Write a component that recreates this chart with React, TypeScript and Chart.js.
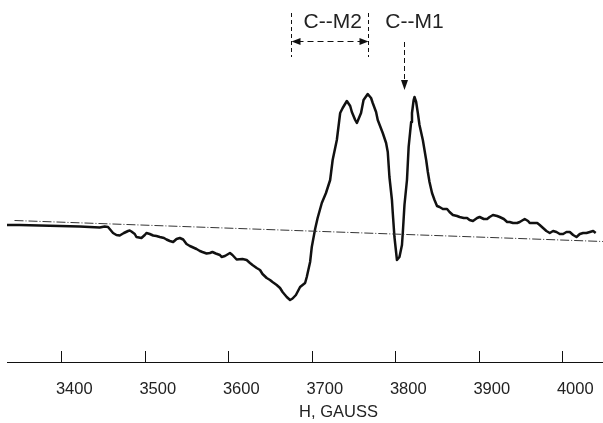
import React, { useEffect, useRef } from "react";
import { Chart, registerables } from "chart.js";

Chart.register(...registerables);

// Magnetic field H (gauss) of the ESR trace
const fieldG = [
  3335, 3350, 3374, 3398, 3422, 3434, 3446, 3452, 3456, 3462, 3466, 3470, 3475, 3480, 3482, 3484,
  3488, 3490, 3496, 3500, 3502, 3506, 3510, 3514, 3518, 3523, 3526, 3530, 3534, 3538, 3542, 3546,
  3550, 3554, 3558, 3562, 3566, 3569, 3574, 3578, 3581, 3585, 3590, 3592, 3596, 3602, 3605, 3610,
  3617, 3622, 3626, 3629, 3634, 3638, 3641, 3646, 3650, 3653, 3658, 3662, 3665, 3670, 3674, 3677,
  3681, 3686, 3689, 3692, 3694, 3698, 3700, 3704, 3707, 3712, 3717, 3722, 3725, 3730, 3734, 3737,
  3742, 3746, 3748, 3752, 3754, 3756, 3759, 3762, 3767, 3771, 3773, 3777, 3779, 3785, 3789, 3791,
  3793, 3796, 3797, 3799, 3802, 3805, 3808, 3809, 3811, 3814, 3816, 3819, 3820, 3822, 3823, 3825,
  3827, 3829, 3833, 3837, 3839, 3841, 3844, 3847, 3850, 3853, 3857, 3862, 3865, 3869, 3874, 3877,
  3882, 3886, 3889, 3893, 3898, 3901, 3906, 3910, 3913, 3917, 3922, 3925, 3930, 3934, 3937, 3941,
  3946, 3949, 3953, 3955, 3959, 3961, 3966, 3970, 3973, 3977, 3981, 3985, 3989, 3993, 3997, 4001,
  4005, 4009, 4013, 4017, 4021, 4025, 4029, 4033, 4037, 4040,
];

// Derivative ESR signal (arbitrary units)
const signal = [
  0, 0, -0.05, -0.1, -0.15, -0.2, -0.25, -0.15, -0.2, -0.8, -1.0, -1.05, -0.8, -0.6, -0.55, -0.65,
  -0.9, -1.2, -1.3, -1.0, -0.8, -0.9, -1.05, -1.1, -1.2, -1.3, -1.45, -1.6, -1.7, -1.4, -1.3, -1.45,
  -1.9, -2.1, -2.25, -2.4, -2.6, -2.7, -2.85, -2.8, -2.7, -2.85, -3.0, -3.2, -3.1, -2.8, -3.0, -3.45,
  -3.4, -3.5, -3.8, -4.0, -4.3, -4.5, -4.9, -5.3, -5.5, -5.7, -6.0, -6.3, -6.7, -7.2, -7.5, -7.35,
  -7.0, -6.2, -6.0, -5.8, -5.2, -3.7, -2.2, -0.4, 0.7, 2.2, 3.2, 4.5, 6.5, 8.5, 11.2, 11.7,
  12.4, 11.9, 11.3, 10.5, 10.2, 10.6, 11.2, 12.5, 13.1, 12.7, 12.2, 11.3, 10.5, 9.2, 8.2, 7.3,
  4.8, 2.5, 1.2, -1.2, -3.5, -3.2, -2.0, -0.8, 2.0, 4.5, 7.8, 10.3, 11.2, 12.5, 12.8, 12.3,
  11.2, 10.0, 8.5, 6.5, 5.3, 4.3, 3.2, 2.5, 1.9, 1.8, 1.6, 1.6, 1.3, 1.0, 0.9, 0.8,
  0.7, 0.7, 0.5, 0.4, 0.7, 0.8, 0.6, 0.6, 0.8, 1.0, 0.9, 0.8, 0.6, 0.3, 0.3, 0.2,
  0.2, 0.3, 0.5, 0.6, 0.4, 0.2, 0.2, 0.2, 0, -0.3, -0.6, -0.8, -0.6, -0.7, -0.9, -0.9,
  -0.7, -0.7, -1.0, -1.2, -0.9, -0.8, -0.8, -0.7, -0.6, -0.8,
];

// Dash-dot baseline
const baselineG = [3344, 4129];
const baselineSignal = [0.45, -1.89];

const tickValues = [3400, 3500, 3600, 3700, 3800, 3900, 4000];
const axisTitle = "H, GAUSS";

// Annotations
const labelM2 = "C--M2";
const labelM1 = "C--M1";
const m2Range = [3675, 3767];
const m2LabelG = 3725;
const m1Field = 3811;
const m1LabelG = 3823;
const labelLevel = 20.25;
const bracketTop = 21.2;
const bracketBottom = 16.8;
const bracketArrowLevel = 18.4;
const m1ArrowTop = 18.3;
const m1ArrowTip = 13.5;

const ink = "#111";

const annotationPlugin = {
  id: "esrAnnotations",
  afterDraw(chart: any) {
    const { ctx, chartArea } = chart;
    const x = chart.scales.x;
    const y = chart.scales.y;
    ctx.save();
    // upward tick marks
    ctx.strokeStyle = ink;
    ctx.lineWidth = 1;
    ctx.setLineDash([]);
    for (const t of tickValues) {
      const px = Math.round(x.getPixelForValue(t)) + 0.5;
      ctx.beginPath();
      ctx.moveTo(px, chartArea.bottom - 11);
      ctx.lineTo(px, chartArea.bottom);
      ctx.stroke();
    }
    // C--M2 bracket
    const xl = Math.round(x.getPixelForValue(m2Range[0])) + 0.5;
    const xr = Math.round(x.getPixelForValue(m2Range[1])) + 0.5;
    const yt = y.getPixelForValue(bracketTop);
    const yb = y.getPixelForValue(bracketBottom);
    ctx.setLineDash([4, 3]);
    ctx.beginPath();
    ctx.moveTo(xl, yt);
    ctx.lineTo(xl, yb);
    ctx.moveTo(xr, yt);
    ctx.lineTo(xr, yb);
    ctx.stroke();
    const ya = Math.round(y.getPixelForValue(bracketArrowLevel)) + 0.5;
    ctx.setLineDash([6, 4]);
    ctx.beginPath();
    ctx.moveTo(xl + 6, ya);
    ctx.lineTo(xr - 6, ya);
    ctx.stroke();
    ctx.setLineDash([]);
    ctx.fillStyle = ink;
    ctx.beginPath();
    ctx.moveTo(xl, ya);
    ctx.lineTo(xl + 9, ya - 3.5);
    ctx.lineTo(xl + 9, ya + 3.5);
    ctx.closePath();
    ctx.fill();
    ctx.beginPath();
    ctx.moveTo(xr, ya);
    ctx.lineTo(xr - 9, ya - 3.5);
    ctx.lineTo(xr - 9, ya + 3.5);
    ctx.closePath();
    ctx.fill();
    // C--M1 arrow
    const xm = Math.round(x.getPixelForValue(m1Field)) + 0.5;
    const y1 = y.getPixelForValue(m1ArrowTop);
    const y2 = y.getPixelForValue(m1ArrowTip);
    ctx.setLineDash([5, 3]);
    ctx.beginPath();
    ctx.moveTo(xm, y1);
    ctx.lineTo(xm, y2 - 8);
    ctx.stroke();
    ctx.setLineDash([]);
    ctx.beginPath();
    ctx.moveTo(xm, y2);
    ctx.lineTo(xm - 3.5, y2 - 10);
    ctx.lineTo(xm + 3.5, y2 - 10);
    ctx.closePath();
    ctx.fill();
    // labels
    ctx.font = '21px "Liberation Sans", Arial, sans-serif';
    ctx.textAlign = "center";
    ctx.textBaseline = "middle";
    ctx.fillStyle = "#222";
    ctx.fillText(labelM2, x.getPixelForValue(m2LabelG), y.getPixelForValue(labelLevel));
    ctx.fillText(labelM1, x.getPixelForValue(m1LabelG), y.getPixelForValue(labelLevel));
    ctx.restore();
  },
};

export default function App() {
  const canvasRef = useRef<HTMLCanvasElement | null>(null);

  useEffect(() => {
    const canvas = canvasRef.current;
    if (!canvas) return;
    const axisFont = { family: '"Liberation Sans", Arial, sans-serif', size: 16.5 };
    const chart = new Chart(canvas, {
      type: "line",
      data: {
        datasets: [
          {
            data: baselineG.map((g, i) => ({ x: g, y: baselineSignal[i] })),
            borderColor: "#333",
            borderWidth: 1,
            borderDash: [9, 2, 1, 2],
            pointRadius: 0,
            tension: 0,
          },
          {
            data: fieldG.map((g, i) => ({ x: g, y: signal[i] })),
            borderColor: ink,
            borderWidth: 2.5,
            pointRadius: 0,
            tension: 0,
            borderJoinStyle: "round",
          },
        ],
      },
      options: {
        responsive: false,
        animation: false,
        events: [],
        layout: { padding: { left: 7, right: 0, top: 0, bottom: 0 } },
        plugins: { legend: { display: false }, tooltip: { enabled: false }, title: { display: false } },
        scales: {
          x: {
            type: "linear",
            min: 3335,
            max: 4129,
            grid: { display: false, drawTicks: false },
            border: { display: true, color: ink, width: 1 },
            afterBuildTicks: (scale: any) => {
              scale.ticks = tickValues.map((v) => ({ value: v }));
            },
            afterFit: (scale: any) => {
              scale.height = 61;
            },
            ticks: {
              autoSkip: false,
              maxRotation: 0,
              padding: 18,
              labelOffset: 13,
              color: "#222",
              font: axisFont,
              callback: (v: any) => String(v),
            },
            title: {
              display: true,
              text: axisTitle,
              color: "#222",
              font: axisFont,
              padding: { top: 0, bottom: 1 },
            },
          },
          y: {
            type: "linear",
            display: false,
            min: -13.7,
            max: 22.5,
          },
        },
      },
      plugins: [annotationPlugin],
    });
    return () => chart.destroy();
  }, []);

  return (
    <div style={{ position: "absolute", left: 0, top: 0, width: 603, height: 423, overflow: "hidden", background: "#fff" }}>
      <canvas ref={canvasRef} width={670} height={423} style={{ display: "block" }} />
    </div>
  );
}
